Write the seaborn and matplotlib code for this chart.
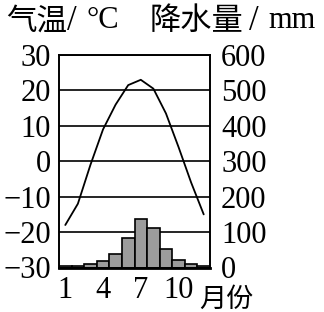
import matplotlib
matplotlib.use("Agg")
import matplotlib.pyplot as plt
import seaborn as sns
import pandas as pd

months = list(range(1, 13))
temperature = [-18, -12, -1, 9, 16, 21.5, 23, 20.5, 13.5, 4, -6, -15]
precipitation = [3, 5, 9, 19, 39, 82, 138, 112, 53, 21, 9, 5]
temp_ticks = [-30, -20, -10, 0, 10, 20, 30]
precip_ticks = [0, 100, 200, 300, 400, 500, 600]
month_ticks = [1, 4, 7, 10]

sns.set_theme(style="white")
FAM = ['Liberation Serif', 'Noto Sans CJK SC', 'DejaVu Sans']
CJK = ['Noto Sans CJK SC', 'Liberation Serif', 'DejaVu Sans']
plt.rcParams['font.family'] = FAM

df = pd.DataFrame({"idx": [m - 1 for m in months], "month": months,
                   "temp": temperature, "precip": precipitation})

fig = plt.figure(figsize=(3.24, 3.12), dpi=100)
ax = fig.add_axes([59 / 324, 44.5 / 312, 151 / 324, 212.5 / 312])
ax2 = ax.twinx()
ax.set_zorder(ax2.get_zorder() + 1)
ax.patch.set_visible(False)
ax2.set_facecolor("white")

# precipitation bars on right axis
sns.barplot(data=df, x="idx", y="precip", ax=ax2, width=1.0, color="#9c9c9c",
            saturation=1, edgecolor="black", linewidth=1.2, native_scale=True)
ax2.set_ylim(0, 600)
ax2.set_yticks(precip_ticks)
ax2.set_yticklabels([str(t) for t in precip_ticks])
ax2.yaxis.grid(True, color="black", linewidth=1.2)
ax2.set_axisbelow(True)
ax2.set_ylabel("")

# temperature line on left axis
sns.lineplot(data=df, x="idx", y="temp", ax=ax, color="black", linewidth=1.3)
ax.set_ylim(-30, 30)
ax.set_yticks(temp_ticks)
ax.set_yticklabels([str(t).replace("-", "\u2212") for t in temp_ticks])
ax.set_xlim(-0.5, 11.5)
ax.set_xticks([m - 1 for m in month_ticks])
ax.set_xticklabels([str(m) for m in month_ticks])
ax.set_xlabel("")
ax.set_ylabel("")
ax2.set_xlim(-0.5, 11.5)
ax2.set_xlabel("")

for a in (ax, ax2):
    for s in a.spines.values():
        s.set_color("black")
        s.set_linewidth(1.2)
    a.tick_params(length=0, labelsize=22, colors="black")
ax.spines["bottom"].set_linewidth(2)
ax.tick_params(axis="y", pad=6)
ax.tick_params(axis="x", pad=6)
ax2.tick_params(axis="y", pad=8)

yt = 1 - 21 / 312
fig.text(6 / 324, yt, "气温", fontsize=22, ha="left", va="center", family=CJK, color="black")
fig.text(67 / 324, yt, "/", fontsize=25, ha="left", va="center", family=FAM, color="black")
fig.text(86 / 324, yt, "°C", fontsize=22, ha="left", va="center", family=FAM, color="black")
fig.text(150 / 324, yt, "降水量", fontsize=22.5, ha="left", va="center", family=CJK, color="black")
fig.text(249 / 324, yt, "/", fontsize=25, ha="left", va="center", family=FAM, color="black")
fig.text(268 / 324, yt, "mm", fontsize=22, ha="left", va="center", family=FAM, color="black")
fig.text(199 / 324, 1 - 299 / 312, "月份", fontsize=19.5, ha="left", va="center",
         family=CJK, color="black")

fig.savefig("out.png", dpi=100)
